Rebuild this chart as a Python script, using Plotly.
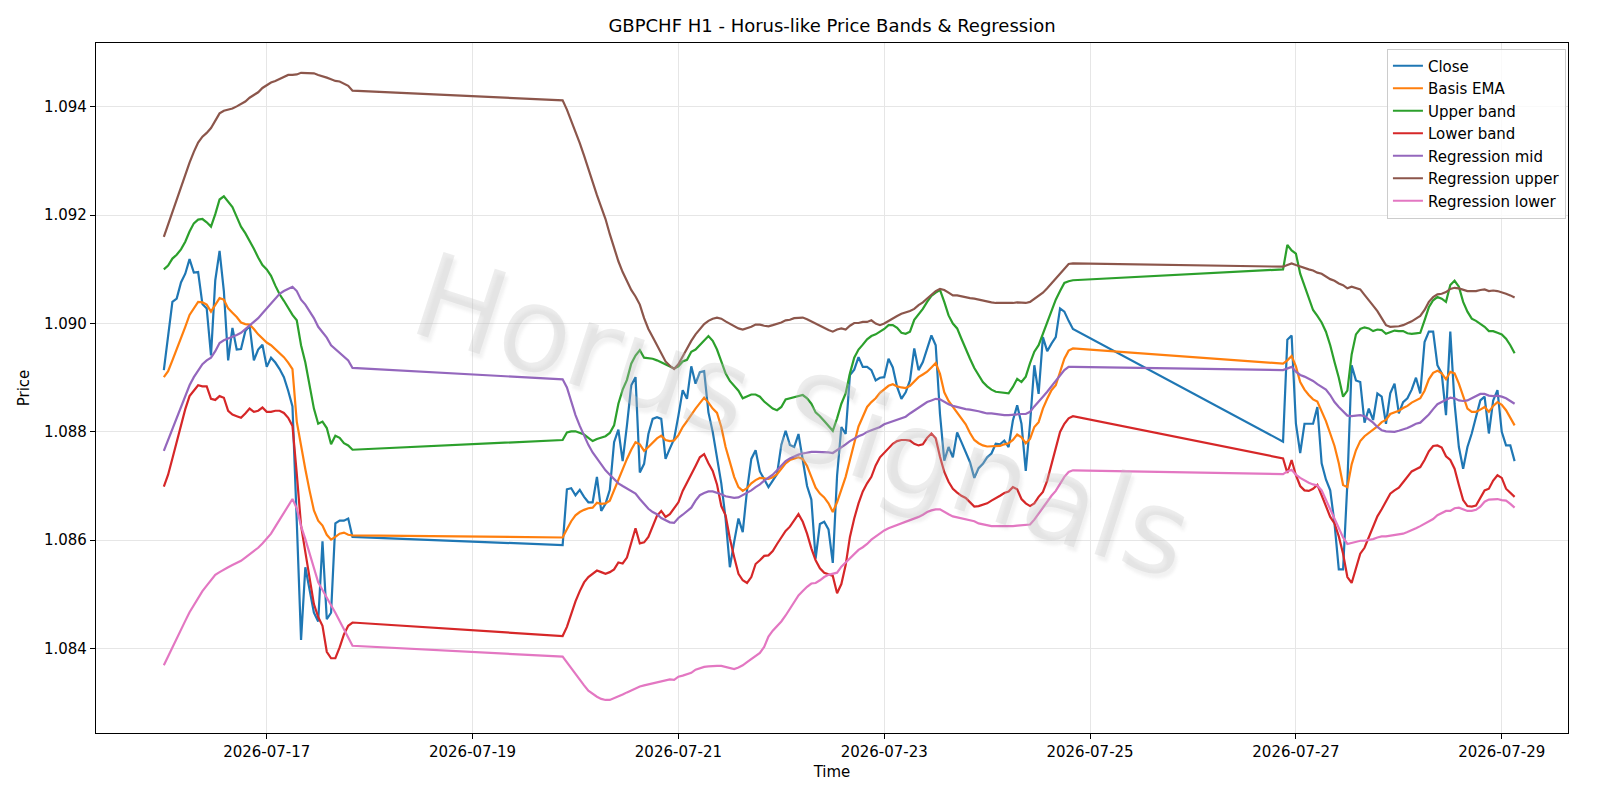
import pandas as pd
import plotly.graph_objects as go

TITLE = "GBPCHF H1 - Horus-like Price Bands & Regression"
WATERMARK = "Horus Signals"

# Hourly trading sessions shown (weekend gaps between them)
SESSIONS = [("2026-07-16 00:00", "2026-07-17 20:00"),
            ("2026-07-19 21:00", "2026-07-24 20:00"),
            ("2026-07-26 21:00", "2026-07-29 03:00")]

X_TICKS = ["2026-07-17", "2026-07-19", "2026-07-21", "2026-07-23",
           "2026-07-25", "2026-07-27", "2026-07-29"]
Y_TICKS = [1.084, 1.086, 1.088, 1.090, 1.092, 1.094]

close = [
    # session 1
    1.08914, 1.08980, 1.09040, 1.09046, 1.09076, 1.09092, 1.09119, 1.09094, 1.09095, 1.09036,
    1.09028, 1.08941, 1.09080, 1.09134, 1.09060, 1.08932, 1.08992, 1.08952, 1.08953, 1.08986,
    1.08996, 1.08932, 1.08952, 1.08961, 1.08920, 1.08937, 1.08928, 1.08916, 1.08901, 1.08876,
    1.08847, 1.08635, 1.08416, 1.08550, 1.08506, 1.08466, 1.08450, 1.08598, 1.08454, 1.08466,
    1.08631, 1.08636, 1.08636, 1.08640, 1.08606,
    # session 2
    1.08591, 1.08694, 1.08696, 1.08683, 1.08693, 1.08680, 1.08670, 1.08670, 1.08717, 1.08654,
    1.08667, 1.08693, 1.08781, 1.08804, 1.08746, 1.08812, 1.08886, 1.08901, 1.08725, 1.08741,
    1.08796, 1.08824, 1.08827, 1.08824, 1.08750, 1.08769, 1.08787, 1.08830, 1.08877, 1.08861,
    1.08921, 1.08889, 1.08910, 1.08912, 1.08836, 1.08800, 1.08755, 1.08705, 1.08640, 1.08550,
    1.08597, 1.08640, 1.08615, 1.08692, 1.08750, 1.08766, 1.08727, 1.08711, 1.08698, 1.08710,
    1.08722, 1.08776, 1.08802, 1.08776, 1.08772, 1.08796, 1.08745, 1.08700, 1.08675, 1.08566,
    1.08630, 1.08634, 1.08620, 1.08558, 1.08719, 1.08809, 1.08796, 1.08905, 1.08915, 1.08938,
    1.08920, 1.08920, 1.08914, 1.08895, 1.08900, 1.08901, 1.08935, 1.08919, 1.08883, 1.08861,
    1.08873, 1.08895, 1.08954, 1.08914, 1.08929, 1.08954, 1.08978, 1.08960, 1.08833, 1.08747,
    1.08772, 1.08753, 1.08799, 1.08781, 1.08762, 1.08744, 1.08715, 1.08733, 1.08741, 1.08753,
    1.08760, 1.08778, 1.08777, 1.08784, 1.08772, 1.08821, 1.08849, 1.08815, 1.08728, 1.08815,
    1.08923, 1.08870, 1.08975, 1.08949, 1.08963, 1.08975, 1.09028, 1.09022, 1.09005, 1.08990,
    # session 3
    1.08782, 1.08970, 1.08978, 1.08815, 1.08761, 1.08815, 1.08815, 1.08815, 1.08846, 1.08742,
    1.08712, 1.08692, 1.08631, 1.08546, 1.08546, 1.08705, 1.08923, 1.08895, 1.08892, 1.08817,
    1.08843, 1.08822, 1.08871, 1.08865, 1.08815, 1.08871, 1.08889, 1.08834, 1.08855, 1.08862,
    1.08878, 1.08900, 1.08871, 1.08966, 1.08985, 1.08985, 1.08923, 1.08908, 1.08831, 1.08985,
    1.08852, 1.08772, 1.08732, 1.08772, 1.08797, 1.08825, 1.08858, 1.08865, 1.08797, 1.08858,
    1.08877, 1.08800, 1.08775, 1.08775, 1.08746,
]

basis_ema = [
    1.08901, 1.08912, 1.08932, 1.08952, 1.08972, 1.08994, 1.09016, 1.09028, 1.09040, 1.09039,
    1.09035, 1.09022, 1.09035, 1.09047, 1.09044, 1.09028, 1.09020, 1.09012, 1.09002, 1.08999,
    1.08998, 1.08990, 1.08980, 1.08973, 1.08965, 1.08960, 1.08953, 1.08946, 1.08938, 1.08928,
    1.08916, 1.08819, 1.08771, 1.08731, 1.08691, 1.08655, 1.08636, 1.08627, 1.08610, 1.08601,
    1.08606, 1.08612, 1.08614, 1.08610, 1.08609,
    1.08605, 1.08620, 1.08635, 1.08646, 1.08652, 1.08656, 1.08659, 1.08660, 1.08669, 1.08667,
    1.08668, 1.08673, 1.08693, 1.08711, 1.08731, 1.08750, 1.08767, 1.08781, 1.08777, 1.08765,
    1.08772, 1.08780, 1.08788, 1.08793, 1.08785, 1.08783, 1.08784, 1.08794, 1.08809, 1.08820,
    1.08832, 1.08843, 1.08853, 1.08863, 1.08854, 1.08843, 1.08835, 1.08809, 1.08772, 1.08742,
    1.08717, 1.08698, 1.08691, 1.08696, 1.08705, 1.08711, 1.08715, 1.08714, 1.08713, 1.08716,
    1.08722, 1.08732, 1.08742, 1.08748, 1.08750, 1.08753, 1.08750, 1.08737, 1.08717, 1.08697,
    1.08686, 1.08679, 1.08668, 1.08652, 1.08670, 1.08692, 1.08717, 1.08748, 1.08782, 1.08810,
    1.08828, 1.08846, 1.08855, 1.08862, 1.08872, 1.08878, 1.08885, 1.08888, 1.08884, 1.08882,
    1.08881, 1.08885, 1.08893, 1.08901, 1.08906, 1.08911, 1.08919, 1.08927, 1.08907, 1.08873,
    1.08857, 1.08846, 1.08836, 1.08825, 1.08814, 1.08798, 1.08785, 1.08779, 1.08775, 1.08773,
    1.08773, 1.08773, 1.08774, 1.08777, 1.08779, 1.08785, 1.08795, 1.08790, 1.08779, 1.08787,
    1.08809, 1.08818, 1.08843, 1.08861, 1.08877, 1.08886, 1.08910, 1.08935, 1.08950, 1.08954,
    1.08926, 1.08932, 1.08940, 1.08921, 1.08892, 1.08878, 1.08868, 1.08860, 1.08856, 1.08838,
    1.08820, 1.08797, 1.08774, 1.08742, 1.08702, 1.08698, 1.08740, 1.08766, 1.08783, 1.08792,
    1.08798, 1.08804, 1.08810, 1.08818, 1.08822, 1.08833, 1.08836, 1.08839, 1.08844, 1.08848,
    1.08854, 1.08858, 1.08862, 1.08876, 1.08897, 1.08909, 1.08913, 1.08908, 1.08897, 1.08911,
    1.08908, 1.08889, 1.08865, 1.08843, 1.08837, 1.08837, 1.08841, 1.08846, 1.08837, 1.08848,
    1.08855, 1.08850, 1.08840, 1.08825, 1.08812,
]

upper_band = [
    1.09100, 1.09107, 1.09120, 1.09127, 1.09137, 1.09151, 1.09170, 1.09185, 1.09192, 1.09193,
    1.09187, 1.09179, 1.09202, 1.09229, 1.09235, 1.09225, 1.09215, 1.09197, 1.09179, 1.09167,
    1.09153, 1.09138, 1.09122, 1.09108, 1.09100, 1.09088, 1.09070, 1.09054, 1.09042, 1.09028,
    1.09016, 1.09006, 1.08960, 1.08928, 1.08884, 1.08843, 1.08815, 1.08819, 1.08807, 1.08777,
    1.08793, 1.08789, 1.08779, 1.08775, 1.08767,
    1.08785, 1.08799, 1.08801, 1.08801, 1.08798, 1.08795, 1.08789, 1.08783, 1.08787, 1.08790,
    1.08792, 1.08798, 1.08812, 1.08852, 1.08878, 1.08896, 1.08926, 1.08941, 1.08951, 1.08937,
    1.08936, 1.08935, 1.08932, 1.08928, 1.08925, 1.08921, 1.08917, 1.08921, 1.08930, 1.08933,
    1.08948, 1.08952, 1.08960, 1.08969, 1.08977, 1.08968, 1.08952, 1.08930, 1.08908, 1.08894,
    1.08884, 1.08876, 1.08862, 1.08865, 1.08869, 1.08869, 1.08865, 1.08856, 1.08850, 1.08843,
    1.08840, 1.08846, 1.08860, 1.08862, 1.08863, 1.08865, 1.08868, 1.08862, 1.08852, 1.08836,
    1.08829, 1.08820, 1.08810, 1.08802, 1.08825, 1.08852, 1.08871, 1.08908, 1.08937, 1.08952,
    1.08961, 1.08971, 1.08977, 1.08980, 1.08985, 1.08990, 1.08997, 1.08997, 1.08992, 1.08983,
    1.08981, 1.08985, 1.09007, 1.09017, 1.09027, 1.09040, 1.09051, 1.09057, 1.09062, 1.09040,
    1.09015, 1.09000, 1.08991, 1.08972, 1.08952, 1.08935, 1.08918, 1.08905, 1.08892, 1.08884,
    1.08878, 1.08874, 1.08873, 1.08872, 1.08871, 1.08883, 1.08898, 1.08892, 1.08902, 1.08927,
    1.08948, 1.08960, 1.08982, 1.09001, 1.09025, 1.09044, 1.09060, 1.09075, 1.09078, 1.09080,
    1.09100, 1.09145, 1.09135, 1.09129, 1.09092, 1.09069, 1.09047, 1.09025, 1.09014, 1.09002,
    1.08985, 1.08960, 1.08929, 1.08900, 1.08865, 1.08876, 1.08943, 1.08980, 1.08990, 1.08993,
    1.08991, 1.08986, 1.08989, 1.08988, 1.08981, 1.08984, 1.08987, 1.08986, 1.08986, 1.08982,
    1.08981, 1.08982, 1.08983, 1.09006, 1.09030, 1.09043, 1.09049, 1.09046, 1.09040, 1.09071,
    1.09079, 1.09068, 1.09040, 1.09022, 1.09009, 1.09005, 1.09000, 1.08994, 1.08986, 1.08986,
    1.08983, 1.08980, 1.08972, 1.08960, 1.08945,
]

lower_band = [
    1.08699, 1.08721, 1.08751, 1.08783, 1.08811, 1.08842, 1.08866, 1.08877, 1.08886, 1.08884,
    1.08884, 1.08861, 1.08859, 1.08866, 1.08863, 1.08839, 1.08832, 1.08829, 1.08826, 1.08834,
    1.08843, 1.08837, 1.08839, 1.08845, 1.08837, 1.08837, 1.08839, 1.08839, 1.08835, 1.08826,
    1.08811, 1.08723, 1.08627, 1.08578, 1.08530, 1.08482, 1.08458, 1.08442, 1.08394, 1.08382,
    1.08382, 1.08402, 1.08426, 1.08442, 1.08448,
    1.08423, 1.08440, 1.08465, 1.08487, 1.08506, 1.08522, 1.08532, 1.08538, 1.08544, 1.08541,
    1.08538, 1.08541, 1.08546, 1.08559, 1.08557, 1.08568, 1.08596, 1.08622, 1.08594, 1.08596,
    1.08606, 1.08626, 1.08645, 1.08654, 1.08643, 1.08648, 1.08658, 1.08670, 1.08691, 1.08706,
    1.08720, 1.08737, 1.08753, 1.08759, 1.08742, 1.08728, 1.08703, 1.08663, 1.08646, 1.08603,
    1.08569, 1.08538, 1.08526, 1.08521, 1.08532, 1.08556, 1.08563, 1.08571, 1.08572, 1.08580,
    1.08593, 1.08606, 1.08617, 1.08625, 1.08637, 1.08648, 1.08634, 1.08612, 1.08585, 1.08563,
    1.08548, 1.08540, 1.08537, 1.08534, 1.08502, 1.08519, 1.08554, 1.08606, 1.08640, 1.08668,
    1.08690, 1.08705, 1.08717, 1.08738, 1.08753, 1.08762, 1.08771, 1.08778, 1.08783, 1.08785,
    1.08785, 1.08784, 1.08778, 1.08775, 1.08777, 1.08789, 1.08797, 1.08788, 1.08754, 1.08726,
    1.08708, 1.08695, 1.08688, 1.08682, 1.08678, 1.08670, 1.08662, 1.08663, 1.08665, 1.08668,
    1.08673, 1.08677, 1.08682, 1.08687, 1.08690, 1.08698, 1.08694, 1.08676, 1.08668, 1.08663,
    1.08668, 1.08680, 1.08689, 1.08710, 1.08740, 1.08770, 1.08800, 1.08815, 1.08825, 1.08829,
    1.08751, 1.08724, 1.08748, 1.08720, 1.08700, 1.08692, 1.08691, 1.08695, 1.08702, 1.08683,
    1.08662, 1.08643, 1.08631, 1.08607, 1.08575, 1.08532, 1.08521, 1.08549, 1.08575, 1.08586,
    1.08605, 1.08623, 1.08644, 1.08657, 1.08671, 1.08686, 1.08692, 1.08697, 1.08707, 1.08717,
    1.08727, 1.08731, 1.08735, 1.08748, 1.08764, 1.08774, 1.08775, 1.08771, 1.08755, 1.08748,
    1.08732, 1.08702, 1.08674, 1.08663, 1.08662, 1.08664, 1.08678, 1.08692, 1.08695, 1.08710,
    1.08720, 1.08715, 1.08695, 1.08688, 1.08680,
]

reg_mid = [
    1.08765, 1.08785, 1.08806, 1.08827, 1.08848, 1.08868, 1.08886, 1.08901, 1.08913, 1.08925,
    1.08932, 1.08937, 1.08949, 1.08964, 1.08969, 1.08972, 1.08975, 1.08979, 1.08983, 1.08990,
    1.08997, 1.09004, 1.09010, 1.09019, 1.09028, 1.09037, 1.09047, 1.09055, 1.09060, 1.09064,
    1.09068, 1.09060, 1.09044, 1.09035, 1.09022, 1.09010, 1.08994, 1.08985, 1.08974, 1.08960,
    1.08953, 1.08946, 1.08940, 1.08932, 1.08918,
    1.08897, 1.08882, 1.08855, 1.08831, 1.08811, 1.08793, 1.08776, 1.08762, 1.08751, 1.08739,
    1.08729, 1.08721, 1.08713, 1.08705, 1.08700, 1.08695, 1.08690, 1.08686, 1.08676, 1.08666,
    1.08658, 1.08652, 1.08648, 1.08641, 1.08637, 1.08633, 1.08632, 1.08641, 1.08647, 1.08653,
    1.08660, 1.08673, 1.08683, 1.08687, 1.08690, 1.08690, 1.08688, 1.08685, 1.08681, 1.08679,
    1.08678, 1.08679, 1.08683, 1.08688, 1.08692, 1.08698, 1.08703, 1.08710, 1.08716, 1.08721,
    1.08729, 1.08737, 1.08746, 1.08751, 1.08755, 1.08758, 1.08760, 1.08762, 1.08763, 1.08763,
    1.08763, 1.08762, 1.08762, 1.08761, 1.08766, 1.08771, 1.08777, 1.08783, 1.08788, 1.08792,
    1.08795, 1.08800, 1.08803, 1.08806, 1.08809, 1.08814, 1.08817, 1.08820, 1.08823, 1.08825,
    1.08828, 1.08834, 1.08839, 1.08844, 1.08849, 1.08855, 1.08858, 1.08861, 1.08860, 1.08855,
    1.08851, 1.08848, 1.08846, 1.08843, 1.08842, 1.08841, 1.08840, 1.08838, 1.08836, 1.08834,
    1.08834, 1.08833, 1.08831, 1.08831, 1.08831, 1.08832, 1.08833, 1.08833, 1.08833, 1.08837,
    1.08847, 1.08857, 1.08865, 1.08874, 1.08884, 1.08894, 1.08905, 1.08914, 1.08920, 1.08920,
    1.08914, 1.08917, 1.08920, 1.08911, 1.08905, 1.08902, 1.08898, 1.08894, 1.08888, 1.08883,
    1.08878, 1.08868, 1.08855, 1.08846, 1.08837, 1.08830, 1.08829, 1.08830, 1.08831, 1.08829,
    1.08823, 1.08817, 1.08809, 1.08803, 1.08801, 1.08800, 1.08800, 1.08802, 1.08804, 1.08807,
    1.08811, 1.08815, 1.08817, 1.08824, 1.08832, 1.08842, 1.08851, 1.08855, 1.08859, 1.08863,
    1.08862, 1.08858, 1.08857, 1.08858, 1.08862, 1.08866, 1.08870, 1.08870, 1.08867, 1.08866,
    1.08867, 1.08865, 1.08862, 1.08857, 1.08852,
]

reg_upper = [
    1.09160, 1.09183, 1.09205, 1.09229, 1.09253, 1.09276, 1.09297, 1.09317, 1.09334, 1.09345,
    1.09352, 1.09361, 1.09375, 1.09388, 1.09393, 1.09395, 1.09397, 1.09401, 1.09405, 1.09410,
    1.09417, 1.09422, 1.09427, 1.09435, 1.09440, 1.09445, 1.09448, 1.09452, 1.09455, 1.09459,
    1.09459, 1.09460, 1.09463, 1.09463, 1.09463, 1.09462, 1.09459, 1.09457, 1.09454, 1.09451,
    1.09448, 1.09447, 1.09443, 1.09439, 1.09430,
    1.09412, 1.09395, 1.09375, 1.09355, 1.09333, 1.09310, 1.09285, 1.09260, 1.09237, 1.09215,
    1.09193, 1.09165, 1.09140, 1.09115, 1.09095, 1.09077, 1.09062, 1.09050, 1.09035, 1.09010,
    1.08990, 1.08975, 1.08960, 1.08945, 1.08930, 1.08922, 1.08916, 1.08925, 1.08940, 1.08955,
    1.08968, 1.08980, 1.08990, 1.08999, 1.09005, 1.09009, 1.09011, 1.09009, 1.09004, 1.09000,
    1.08995, 1.08991, 1.08989, 1.08991, 1.08994, 1.08998, 1.08998, 1.08996, 1.08995, 1.08997,
    1.08999, 1.09002, 1.09006, 1.09007, 1.09010, 1.09011, 1.09011, 1.09008, 1.09004, 1.08999,
    1.08995, 1.08991, 1.08988, 1.08985, 1.08989, 1.08991, 1.08989, 1.08996, 1.09001, 1.09001,
    1.09003, 1.09003, 1.09006, 1.09000, 1.08997, 1.09000, 1.09005, 1.09009, 1.09014, 1.09018,
    1.09020, 1.09023, 1.09027, 1.09034, 1.09039, 1.09046, 1.09054, 1.09060, 1.09064, 1.09062,
    1.09057, 1.09052, 1.09052, 1.09050, 1.09049, 1.09047, 1.09046, 1.09044, 1.09042, 1.09040,
    1.09039, 1.09038, 1.09038, 1.09038, 1.09037, 1.09038, 1.09039, 1.09039, 1.09038, 1.09040,
    1.09046, 1.09052, 1.09057, 1.09065, 1.09074, 1.09083, 1.09092, 1.09103, 1.09110, 1.09111,
    1.09105, 1.09108, 1.09111, 1.09108, 1.09105, 1.09103, 1.09100, 1.09098, 1.09094, 1.09092,
    1.09087, 1.09082, 1.09079, 1.09074, 1.09071, 1.09065, 1.09068, 1.09066, 1.09063, 1.09053,
    1.09044, 1.09033, 1.09023, 1.09009, 1.08997, 1.08994, 1.08994, 1.08995, 1.08997, 1.09000,
    1.09004, 1.09009, 1.09014, 1.09025, 1.09040, 1.09049, 1.09054, 1.09055, 1.09058, 1.09064,
    1.09066, 1.09065, 1.09062, 1.09060, 1.09060, 1.09060, 1.09062, 1.09063, 1.09060, 1.09061,
    1.09060, 1.09058, 1.09055, 1.09052, 1.09048,
]

reg_lower = [
    1.08369, 1.08386, 1.08403, 1.08420, 1.08436, 1.08451, 1.08467, 1.08480, 1.08493, 1.08506,
    1.08516, 1.08526, 1.08536, 1.08541, 1.08546, 1.08550, 1.08554, 1.08558, 1.08562, 1.08568,
    1.08574, 1.08580, 1.08586, 1.08594, 1.08604, 1.08612, 1.08625, 1.08638, 1.08651, 1.08663,
    1.08676, 1.08659, 1.08626, 1.08602, 1.08574, 1.08545, 1.08522, 1.08508, 1.08495, 1.08480,
    1.08466, 1.08451, 1.08437, 1.08422, 1.08405,
    1.08385, 1.08374, 1.08364, 1.08353, 1.08342, 1.08332, 1.08322, 1.08316, 1.08311, 1.08307,
    1.08305, 1.08305, 1.08308, 1.08312, 1.08315, 1.08319, 1.08323, 1.08327, 1.08330, 1.08332,
    1.08334, 1.08335, 1.08337, 1.08340, 1.08342, 1.08343, 1.08342, 1.08348, 1.08350, 1.08352,
    1.08355, 1.08361, 1.08364, 1.08366, 1.08367, 1.08368, 1.08368, 1.08368, 1.08366, 1.08363,
    1.08362, 1.08365, 1.08369, 1.08375, 1.08381, 1.08387, 1.08392, 1.08403, 1.08422, 1.08433,
    1.08441, 1.08450, 1.08461, 1.08474, 1.08487, 1.08498, 1.08506, 1.08514, 1.08520, 1.08521,
    1.08526, 1.08532, 1.08536, 1.08538, 1.08540, 1.08551, 1.08559, 1.08566, 1.08575, 1.08582,
    1.08587, 1.08593, 1.08601, 1.08607, 1.08612, 1.08618, 1.08622, 1.08625, 1.08627, 1.08631,
    1.08633, 1.08636, 1.08639, 1.08643, 1.08647, 1.08652, 1.08655, 1.08657, 1.08657, 1.08652,
    1.08648, 1.08644, 1.08642, 1.08641, 1.08639, 1.08637, 1.08635, 1.08631, 1.08629, 1.08627,
    1.08626, 1.08626, 1.08626, 1.08625, 1.08625, 1.08626, 1.08627, 1.08628, 1.08628, 1.08629,
    1.08638, 1.08649, 1.08660, 1.08673, 1.08682, 1.08691, 1.08705, 1.08717, 1.08726, 1.08729,
    1.08722, 1.08727, 1.08730, 1.08721, 1.08715, 1.08710, 1.08706, 1.08703, 1.08701, 1.08692,
    1.08675, 1.08657, 1.08640, 1.08623, 1.08605, 1.08593, 1.08595, 1.08597, 1.08599, 1.08599,
    1.08600, 1.08602, 1.08605, 1.08607, 1.08607, 1.08608, 1.08609, 1.08610, 1.08612, 1.08615,
    1.08618, 1.08622, 1.08626, 1.08630, 1.08634, 1.08639, 1.08646, 1.08650, 1.08654, 1.08654,
    1.08659, 1.08660, 1.08657, 1.08654, 1.08654, 1.08656, 1.08662, 1.08671, 1.08675, 1.08675,
    1.08676, 1.08674, 1.08673, 1.08667, 1.08660,
]

# time index of the hourly bars
times = pd.DatetimeIndex([])
for start, end in SESSIONS:
    times = times.append(pd.date_range(start, end, freq="h"))
x_vals = list(times.strftime("%Y-%m-%d %H:%M"))

series = [
    ("Close", close, "#1f77b4"),
    ("Basis EMA", basis_ema, "#ff7f0e"),
    ("Upper band", upper_band, "#2ca02c"),
    ("Lower band", lower_band, "#d62728"),
    ("Regression mid", reg_mid, "#9467bd"),
    ("Regression upper", reg_upper, "#8c564b"),
    ("Regression lower", reg_lower, "#e377c2"),
]

fig = go.Figure()
for name, vals, color in series:
    assert len(vals) == len(x_vals), (name, len(vals), len(x_vals))
    fig.add_trace(go.Scatter(
        x=x_vals, y=vals, mode="lines", name=name, legendgroup=name,
        line=dict(color=color, width=2.2), hoverinfo="skip",
    ))

fig.add_annotation(
    text=WATERMARK, xref="paper", yref="paper", x=0.480, y=0.460,
    xanchor="center", yanchor="middle", showarrow=False, textangle=18,
    font=dict(family="DejaVu Sans", size=118, color="rgba(195,195,195,0.30)",
              shadow="4px 4px 3px rgba(120,120,120,0.33)"),
)

grid = "#e6e6e6"
fig.update_layout(
    width=1600, height=800,
    margin=dict(l=96, r=32, t=43, b=67, autoexpand=False),
    paper_bgcolor="white", plot_bgcolor="white",
    font=dict(family="DejaVu Sans", size=15, color="black"),
    title=dict(text=TITLE, x=0.5, xref="paper", xanchor="center",
               y=1 - 25.5 / 800, yref="container", yanchor="middle",
               font=dict(size=18, color="black")),
    showlegend=True,
    legend=dict(x=0.9986, xanchor="right", y=0.992, yanchor="top",
                bgcolor="rgba(255,255,255,0.8)", bordercolor="#cccccc",
                borderwidth=1, font=dict(size=15), tracegroupgap=0,
                itemwidth=30),
)
fig.update_xaxes(
    type="date", range=["2026-07-15 08:11", "2026-07-29 15:27"],
    tickvals=X_TICKS, ticktext=X_TICKS, tickangle=0,
    showgrid=True, gridcolor=grid, gridwidth=1.1, zeroline=False,
    showline=True, linecolor="black", linewidth=1.2, mirror=True,
    ticks="outside", ticklen=5, tickwidth=1.2, tickcolor="black",
    tickfont=dict(size=15), automargin=False,
    title=dict(text="Time", font=dict(size=15), standoff=6),
)
fig.update_yaxes(
    range=[1.08244, 1.09518],
    tickvals=Y_TICKS, ticktext=[f"{v:.3f}" for v in Y_TICKS],
    showgrid=True, gridcolor=grid, gridwidth=1.1, zeroline=False,
    showline=True, linecolor="black", linewidth=1.2, mirror=True,
    ticks="outside", ticklen=5, tickwidth=1.2, tickcolor="black",
    tickfont=dict(size=15), automargin=False,
    title=dict(text="Price", font=dict(size=15), standoff=10),
)

fig.write_html("out.html")
